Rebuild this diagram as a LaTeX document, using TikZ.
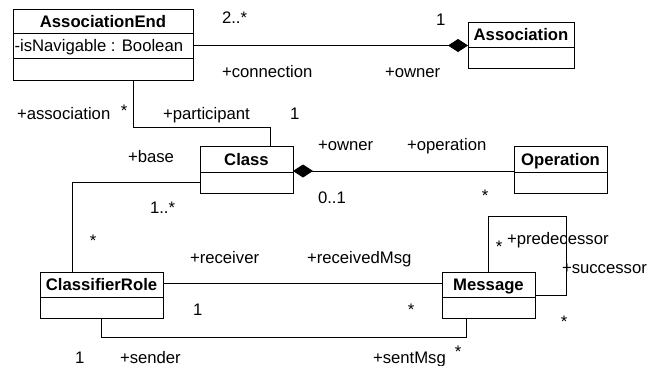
\documentclass[tikz,border=0pt]{standalone}
\usepackage{fontspec}
\setmainfont{Liberation Sans}
\usetikzlibrary{arrows.meta}
\begin{document}
\begin{tikzpicture}[x=1pt,y=-1pt,
  every node/.style={inner sep=0pt,outer sep=0pt},
  umlbox/.style={draw,line width=1pt,rectangle},
  cname/.style={anchor=base,font=\fontsize{16.7}{20}\selectfont\bfseries},
  lbl/.style={anchor=base west,font=\fontsize{16.7}{20}\selectfont},
  star/.style={anchor=base,font=\fontsize{16.7}{20}\selectfont},
  conn/.style={line width=0.9pt},
  comp/.style={-{Diamond[length=20pt,width=13pt]}}]
\useasboundingbox (0,0) rectangle (660,366);
% boxes
\node[umlbox,minimum width=180pt,minimum height=71pt] (ae) at (103,45.5) {};
\draw[line width=1pt] (13,34) -- (193,34) (13,59) -- (193,59);
\node[cname] (aen) at (103,27.5) {AssociationEnd};
\node[lbl] (aeattr) at (14.5,52) {-isNavigable : Boolean};

\node[umlbox,minimum width=106pt,minimum height=46pt] (assoc) at (521,46) {};
\draw[line width=1pt] (468,48) -- (574,48);
\node[cname] (assocn) at (521,41) {Association};

\node[umlbox,minimum width=93pt,minimum height=46pt] (cls) at (246.5,170) {};
\draw[line width=1pt] (200,172) -- (293,172);
\node[cname] (clsn) at (246.5,165) {Class};

\node[umlbox,minimum width=93pt,minimum height=46pt] (op) at (560.5,170) {};
\draw[line width=1pt] (514,172) -- (607,172);
\node[cname] (opn) at (560.5,165) {Operation};

\node[umlbox,minimum width=123pt,minimum height=46pt] (crole) at (101.5,295) {};
\draw[line width=1pt] (40,297) -- (163,297);
\node[cname] (crolen) at (101.5,290) {ClassifierRole};

\node[umlbox,minimum width=93pt,minimum height=46pt] (msg) at (488.5,295) {};
\draw[line width=1pt] (442,297) -- (535,297);
\node[cname] (msgn) at (488.5,290) {Message};

% connectors
\draw[conn,comp] (ae.east) -- (ae.east -| assoc.west);
\draw[conn] ([xshift=30pt]ae.south) -- ++(0,46) -| ([xshift=23.5pt]cls.north);
\draw[conn,{Diamond[length=20pt,width=13pt]}-] ([yshift=-1pt]cls.east) -- ([yshift=-1pt]op.west);
\draw[conn] ([yshift=-12pt]cls.west) -| ([xshift=-29.5pt]crole.north);
\draw[conn] ([yshift=12pt]crole.east) -- ([yshift=12pt]crole.east -| msg.west);
\draw[conn] (crole.south) -- ++(0,19) -| ([xshift=-22.5pt]msg.south);
\draw[conn] (msg.north) -- ++(0,-56) -- ++(77.5,0) |- (msg.east);

% labels
\node[lbl] (m1) at (222,24) {2..*};
\node[lbl] (m2) at (436,26) {1};
\node[lbl] (r1) at (222,78) {+connection};
\node[lbl] (r2) at (385,78) {+owner};
\node[lbl] (r3) at (17,120) {+association};
\node[star] (m3) at (124,116.5) {*};
\node[lbl] (r4) at (163,120) {+participant};
\node[lbl] (m4) at (290,120) {1};
\node[lbl] (r5) at (128,162) {+base};
\node[lbl] (r6) at (318,150) {+owner};
\node[lbl] (r7) at (407,150) {+operation};
\node[lbl] (m5) at (318,203) {0..1};
\node[star] (m6) at (485,201.5) {*};
\node[lbl] (m7) at (150,213) {1..*};
\node[star] (m8) at (93,246.5) {*};
\node[lbl] (r8) at (190,263) {+receiver};
\node[lbl] (r9) at (307,263) {+receivedMsg};
\node[lbl] (m9) at (193,315) {1};
\node[star] (m10) at (411,315.5) {*};
\node[star] (m11) at (499,252.5) {*};
\node[lbl] (r10) at (507,244) {+predecessor};
\node[lbl] (r11) at (562,273) {+successor};
\node[star] (m12) at (564,327.5) {*};
\node[lbl] (m13) at (75,363) {1};
\node[lbl] (r12) at (120,363) {+sender};
\node[lbl] (r13) at (373,363) {+sentMsg};
\node[star] (m14) at (458,357.5) {*};
\end{tikzpicture}
\end{document}
